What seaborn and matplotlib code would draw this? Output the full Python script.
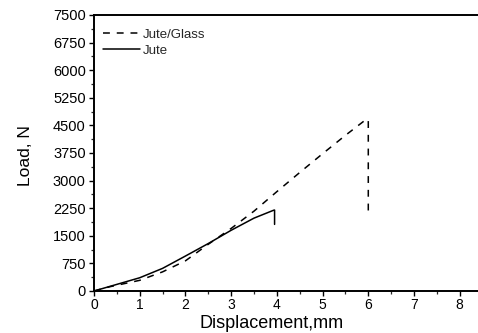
import matplotlib
matplotlib.use("Agg")
import matplotlib.pyplot as plt
import seaborn as sns
import pandas as pd
from matplotlib.ticker import MultipleLocator

# Data
glass_x = [0, 0.35, 1.0, 1.5, 2.0, 2.5, 3.0, 3.5, 4.0, 4.5, 5.0, 5.5, 5.95, 6.0, 6.0]
glass_y = [0, 117, 290, 520, 820, 1270, 1700, 2170, 2700, 3220, 3730, 4230, 4660, 4660, 2160]
jute_x = [0, 0.5, 1.0, 1.5, 2.0, 2.5, 3.0, 3.5, 3.93, 3.95, 3.95]
jute_y = [0, 180, 360, 615, 950, 1290, 1650, 1980, 2195, 2200, 1810]

x_ticks = [0, 1, 2, 3, 4, 5, 6, 7, 8]
y_ticks = [0, 750, 1500, 2250, 3000, 3750, 4500, 5250, 6000, 6750, 7500]

sns.set_theme(style="ticks")
plt.rcParams["font.family"] = ["Liberation Sans", "DejaVu Sans"]

fig = plt.figure(figsize=(4.78, 3.33), dpi=100)
ax = fig.add_axes([94 / 478, (333 - 291) / 333, 1 - 94 / 478, (291 - 15) / 333])

df_g = pd.DataFrame({"x": glass_x, "y": glass_y})
df_j = pd.DataFrame({"x": jute_x, "y": jute_y})

sns.lineplot(data=df_g, x="x", y="y", sort=False, estimator=None, ax=ax,
             color="black", lw=1.1, label="Jute/Glass")
sns.lineplot(data=df_j, x="x", y="y", sort=False, estimator=None, ax=ax,
             color="black", lw=1.1, label="Jute")
ax.lines[0].set_dashes((4.5, 4.5))

ax.set_xlim(0, 8.4)
ax.set_ylim(0, 7500)
ax.set_xticks(x_ticks)
ax.set_yticks(y_ticks)
ax.xaxis.set_minor_locator(MultipleLocator(0.5))
ax.yaxis.set_minor_locator(MultipleLocator(375))
ax.tick_params(which="major", direction="out", length=3.5, width=1.0,
               labelsize=10.5, colors="black", pad=2.5)
ax.tick_params(axis="x", which="major", pad=1.5, labelsize=10)
ax.tick_params(which="minor", direction="out", length=2, width=0.9)

for s in ["left", "bottom", "top"]:
    ax.spines[s].set_visible(True)
    ax.spines[s].set_linewidth(1.4)
    ax.spines[s].set_color("black")
ax.spines["right"].set_visible(False)

ax.set_xlabel("Displacement,mm", fontsize=13, color="black")
ax.set_ylabel("Load, N", fontsize=12.5, color="black")
ax.xaxis.set_label_coords((272 - 94) / 384, -0.088)
ax.yaxis.set_label_coords(-0.16, 0.49)

handles, labels = ax.get_legend_handles_labels()
handles[0].set_dashes((4.5, 4.5))
leg = ax.legend(handles, labels, loc="upper left", bbox_to_anchor=(0.0, 0.985),
                frameon=False, fontsize=9.5, handlelength=2.8, handletextpad=0.2,
                labelspacing=0.3, borderaxespad=0.3)

fig.savefig("out.png", dpi=100)
